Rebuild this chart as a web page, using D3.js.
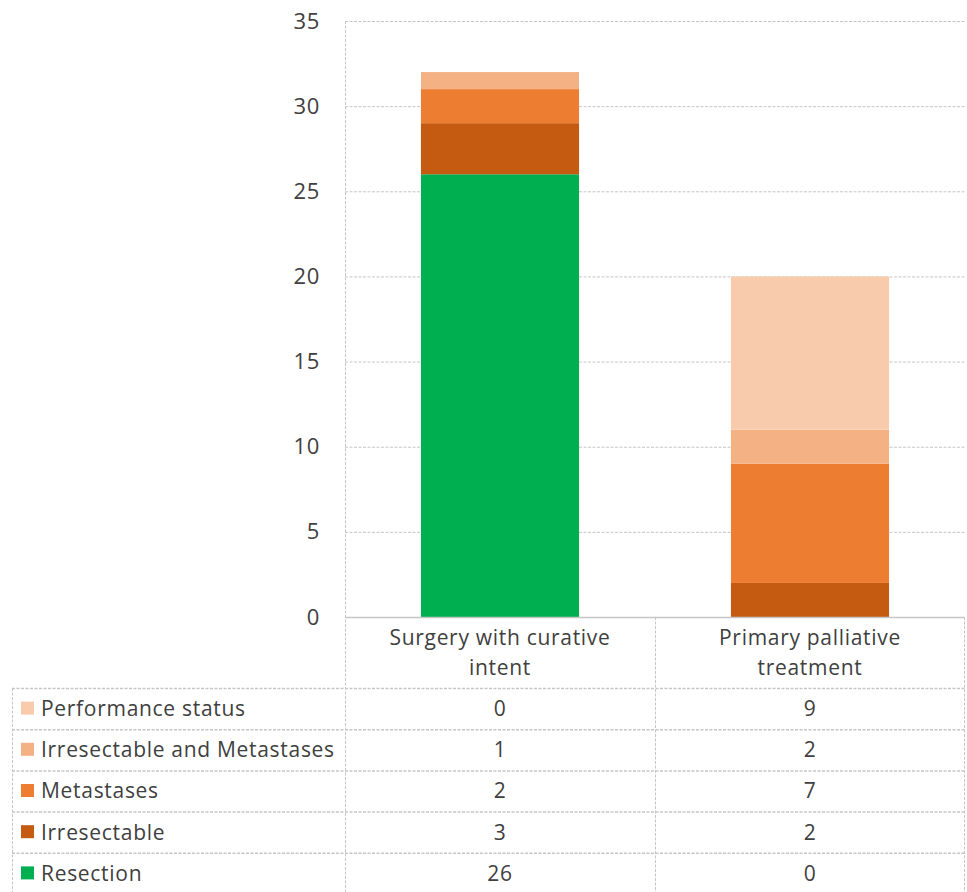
<!DOCTYPE html>
<html>
<head>
<meta charset="utf-8">
<script src="https://cdn.jsdelivr.net/npm/d3@7"></script>
<style>
  html, body { margin: 0; padding: 0; background: #fff; }
  svg { display: block; }
  text { font-family: "Open Sans", sans-serif; fill: #404040; letter-spacing: 0.7px; }
</style>
</head>
<body>
<svg id="chart" width="967" height="892"></svg>
<script>
// ---- data ----
const categories = ["Surgery with curative intent", "Primary palliative treatment"];
const categoryLines = [["Surgery with curative", "intent"], ["Primary palliative", "treatment"]];
const seriesNames = ["Resection", "Irresectable", "Metastases", "Irresectable and Metastases", "Performance status"];
const resection = [26, 0];
const irresectable = [3, 2];
const metastases = [2, 7];
const irrAndMet = [1, 2];
const performance = [0, 9];
const seriesColors = ["#00B050", "#C55A11", "#ED7D31", "#F4B183", "#F8CBAD"];
const yTicks = [0, 5, 10, 15, 20, 25, 30, 35];

const seriesValues = [resection, irresectable, metastases, irrAndMet, performance];
const rows = categories.map((c, i) => {
  const r = { category: c };
  seriesNames.forEach((s, j) => r[s] = seriesValues[j][i]);
  return r;
});

// ---- layout ----
const svg = d3.select("#chart");
const plotLeft = 345, plotRight = 965, plotTop = 21, plotBottom = 617;
const tableLeft = 12, headerBottom = 688, rowH = 41.2;
const fs = "21px";

const x = d3.scaleBand().domain(categories).range([plotLeft, plotRight])
  .paddingInner(0.49).paddingOuter(0.245);
const y = d3.scaleLinear().domain([0, 35]).range([plotBottom, plotTop]);
const color = d3.scaleOrdinal().domain(seriesNames).range(seriesColors);

const gridStroke = "#c6c6c6";
const dash = "3,1.5";

// gridlines
svg.append("g").selectAll("line").data(yTicks.filter(t => t > 0)).join("line")
  .attr("x1", plotLeft).attr("x2", plotRight)
  .attr("y1", d => y(d) + 0.5).attr("y2", d => y(d) + 0.5)
  .attr("stroke", gridStroke).attr("stroke-width", 1).attr("stroke-dasharray", dash);

// y axis labels
const yAxis = d3.axisLeft(y).tickValues(yTicks).tickSize(0).tickPadding(25);
const gy = svg.append("g").attr("transform", `translate(${plotLeft},0)`).call(yAxis);
gy.select(".domain").remove();
gy.selectAll("text").style("font-size", "22px").attr("fill", "#404040")
  .style("font-family", "'Open Sans', sans-serif").style("letter-spacing", "0.7px");

// stacked bars
const stack = d3.stack().keys(seriesNames)(rows);
svg.append("g").selectAll("g").data(stack).join("g")
  .attr("fill", d => color(d.key))
  .selectAll("rect").data(d => d).join("rect")
  .attr("x", d => x(d.data.category))
  .attr("width", x.bandwidth())
  .attr("y", d => y(d[1]))
  .attr("height", d => y(d[0]) - y(d[1]));

// ---- table ----
const tableRows = seriesNames.slice().reverse();
const tableBottom = headerBottom + rowH * tableRows.length;
const colEdges = [plotLeft, plotLeft + x.step(), plotRight];
const g = svg.append("g");

// vertical lines
g.append("line").attr("x1", plotLeft + 0.5).attr("x2", plotLeft + 0.5)
  .attr("y1", plotTop).attr("y2", tableBottom)
  .attr("stroke", gridStroke).attr("stroke-dasharray", dash);
g.append("line").attr("x1", colEdges[1] + 0.5).attr("x2", colEdges[1] + 0.5)
  .attr("y1", plotBottom).attr("y2", tableBottom)
  .attr("stroke", gridStroke).attr("stroke-dasharray", dash);
g.append("line").attr("x1", plotRight - 0.5).attr("x2", plotRight - 0.5)
  .attr("y1", plotBottom).attr("y2", tableBottom)
  .attr("stroke", gridStroke).attr("stroke-dasharray", dash);
g.append("line").attr("x1", tableLeft + 0.5).attr("x2", tableLeft + 0.5)
  .attr("y1", headerBottom).attr("y2", tableBottom)
  .attr("stroke", gridStroke).attr("stroke-dasharray", dash);

// zero line / header top
g.append("line").attr("x1", plotLeft).attr("x2", plotRight)
  .attr("y1", plotBottom + 0.5).attr("y2", plotBottom + 0.5)
  .attr("stroke", gridStroke).attr("stroke-width", 1.5);

// horizontal row lines
const hLines = d3.range(tableRows.length + 1).map(i => headerBottom + i * rowH);
g.selectAll(".hl").data(hLines).join("line")
  .attr("x1", tableLeft).attr("x2", plotRight)
  .attr("y1", d => d + 0.5).attr("y2", d => d + 0.5)
  .attr("stroke", gridStroke).attr("stroke-width", 1.5).attr("stroke-dasharray", dash);

// category header text
categories.forEach((c, i) => {
  const cx = x(c) + x.bandwidth() / 2;
  const t = g.append("text").attr("text-anchor", "middle").style("font-size", fs);
  categoryLines[i].forEach((ln, k) => {
    t.append("tspan").attr("x", cx).attr("y", 645 + k * 30).text(ln);
  });
});

// legend rows + values
tableRows.forEach((s, r) => {
  const yMid = headerBottom + r * rowH + rowH / 2;
  g.append("rect").attr("x", 21).attr("y", yMid - 7).attr("width", 13).attr("height", 13)
    .attr("fill", color(s));
  g.append("text").attr("x", 41).attr("y", yMid).attr("dy", "0.35em")
    .style("font-size", fs).text(s);
  categories.forEach(c => {
    const v = rows.find(d => d.category === c)[s];
    g.append("text").attr("x", x(c) + x.bandwidth() / 2).attr("y", yMid).attr("dy", "0.35em")
      .attr("text-anchor", "middle").style("font-size", fs).text(v);
  });
});
</script>
</body>
</html>
